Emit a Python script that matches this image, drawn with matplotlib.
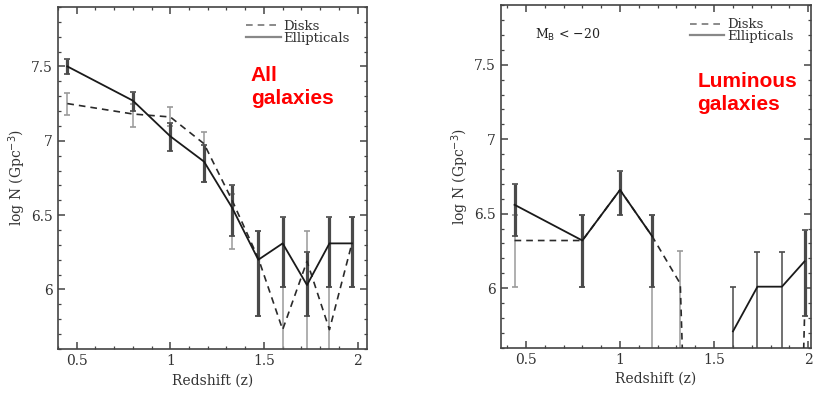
import numpy as np
import matplotlib
matplotlib.use("Agg")
import matplotlib.pyplot as plt
from matplotlib.ticker import MultipleLocator

# left panel: all galaxies
z_all = [0.45, 0.80, 1.00, 1.18, 1.33, 1.47, 1.60, 1.73, 1.85, 1.97]
ell_all = [7.50, 7.27, 7.03, 6.86, 6.55, 6.20, 6.31, 6.03, 6.31, 6.31]
ell_all_hi = [7.55, 7.33, 7.12, 6.97, 6.70, 6.39, 6.49, 6.25, 6.49, 6.49]
ell_all_lo = [7.45, 7.20, 6.93, 6.72, 6.36, 5.82, 6.02, 5.82, 6.02, 6.02]
disk_all = [7.25, 7.18, 7.16, 6.98, 6.60, 6.21, 5.73, 6.19, 5.73, 6.31]
disk_all_hi = [7.32, 7.25, 7.23, 7.06, 6.64, 6.39, 6.02, 6.39, 6.02, 6.49]
disk_all_lo = [7.17, 7.09, 7.10, 6.72, 6.27, 5.82, 5.00, 5.00, 5.00, 6.02]

# right panel: luminous galaxies (M_B < -20); 0 = empty bin, nan = not shown
z_lum = [0.44, 0.80, 1.00, 1.17, 1.32, 1.47, 1.60, 1.73, 1.86, 1.98]
ell_lum = [6.56, 6.32, 6.66, 6.35, np.nan, np.nan, 5.71, 6.01, 6.01, 6.18]
ell_lum_hi = [6.70, 6.49, 6.79, 6.49, np.nan, np.nan, 6.01, 6.24, 6.24, 6.39]
ell_lum_lo = [6.35, 6.01, 6.49, 6.01, np.nan, np.nan, 5.00, 5.00, 5.00, 5.81]
disk_lum = [6.32, 6.32, 6.66, 6.35, 6.03, 0.0, 0.0, 0.0, 0.0, 5.81]
disk_lum_hi = [6.49, 6.49, np.nan, 6.49, 6.25, np.nan, np.nan, np.nan, np.nan, np.nan]
disk_lum_lo = [6.01, 6.01, np.nan, 5.00, 5.00, np.nan, np.nan, np.nan, np.nan, np.nan]

serif = "DejaVu Serif"
YMIN, YMAX = 5.6, 7.9

fig = plt.figure(figsize=(8.13, 3.95), dpi=100)
ax1 = fig.add_axes([0.0713, 0.1165, 0.380, 0.866])
ax2 = fig.add_axes([0.616, 0.1197, 0.381, 0.867])


def draw(ax, z, ell, ell_hi, ell_lo, disk, disk_hi, disk_lo, xlim):
    z = np.array(z)
    for vals, hi, lo, col, lw in [(disk, disk_hi, disk_lo, '#9a9a9a', 1.1),
                                  (ell, ell_hi, ell_lo, '#4a4a4a', 2.3)]:
        vals = np.array(vals)
        hi = np.array(hi)
        lo = np.array(lo)
        ok = ~np.isnan(hi)
        closed = ok & (lo >= YMIN)
        opened = ok & (lo < YMIN)
        ax.errorbar(z[closed], vals[closed],
                    yerr=[vals[closed] - lo[closed], hi[closed] - vals[closed]],
                    fmt='none', ecolor=col, elinewidth=lw, capsize=2.5,
                    capthick=1.2, zorder=2)
        ax.errorbar(z[opened], vals[opened],
                    yerr=[vals[opened] - lo[opened], hi[opened] - vals[opened]],
                    fmt='none', ecolor=col, elinewidth=1.1, capsize=2.5,
                    capthick=1.2, zorder=2)
    ax.plot(z, disk, ls=(0, (4, 3)), color='#2a2a2a', lw=1.2, zorder=3)
    ax.plot(z, ell, ls='-', color='#1a1a1a', lw=1.3, zorder=3)

    ax.set_xlim(*xlim)
    ax.set_ylim(YMIN, YMAX)
    ax.xaxis.set_minor_locator(MultipleLocator(0.1))
    ax.yaxis.set_minor_locator(MultipleLocator(0.1))
    ax.set_xticks([0.5, 1, 1.5, 2])
    ax.set_xticklabels(['0.5', '1', '1.5', '2'])
    ax.set_yticks([6, 6.5, 7, 7.5])
    ax.set_yticklabels(['6', '6.5', '7', '7.5'])
    ax.tick_params(which='both', direction='in', top=True, right=True,
                   color='#444444', labelsize=10, labelcolor='#333333')
    ax.tick_params(which='major', length=5, width=1.1)
    ax.tick_params(which='minor', length=2.5, width=0.9)
    for lab in ax.get_xticklabels() + ax.get_yticklabels():
        lab.set_family(serif)
    for s in ax.spines.values():
        s.set_color('#444444')
        s.set_linewidth(1.2)
    ax.set_xlabel('Redshift (z)', family=serif, fontsize=10, color='#333333', labelpad=4)
    ax.set_ylabel(r'log N (Gpc$^{-3}$)', family=serif, fontsize=10, color='#333333', labelpad=2)

    h1, = ax.plot([], [], ls=(0, (4, 3)), color='#777777', lw=1.2)
    h2, = ax.plot([], [], ls='-', color='#888888', lw=1.6)
    leg = ax.legend([h1, h2], ['Disks', 'Ellipticals'], loc='upper right',
                    bbox_to_anchor=(0.97, 0.985),
                    frameon=False, handlelength=2.6, handletextpad=0.2,
                    labelspacing=-0.1, borderaxespad=0.2,
                    prop={'family': serif, 'size': 9.5})
    for t in leg.get_texts():
        t.set_color('#333333')


draw(ax1, z_all, ell_all, ell_all_hi, ell_all_lo, disk_all, disk_all_hi, disk_all_lo,
     (0.40, 2.05))
draw(ax2, z_lum, ell_lum, ell_lum_hi, ell_lum_lo, disk_lum, disk_lum_hi, disk_lum_lo,
     (0.367, 2.012))

ax1.text(1.43, 7.36, 'All\ngalaxies', color='red', fontsize=15, fontweight='bold',
         family='Liberation Sans', va='center', ha='left', linespacing=1.3)
ax2.text(1.41, 7.31, 'Luminous\ngalaxies', color='red', fontsize=15, fontweight='bold',
         family='Liberation Sans', va='center', ha='left', linespacing=1.3)
ax2.text(0.548, 7.70, r'M$_{\rm B}$ < $-$20', family=serif, fontsize=9,
         color='#222222', va='center', ha='left')

fig.savefig('out.png', dpi=100)
